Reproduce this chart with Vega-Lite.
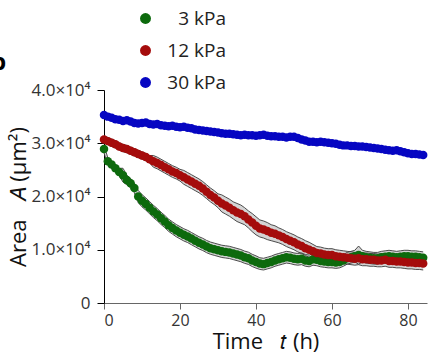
{
  "$schema": "https://vega.github.io/schema/vega-lite/v6.json",
  "width": 323,
  "height": 213,
  "autosize": "none",
  "padding": {"left": 104, "top": 90, "right": 4, "bottom": 57},
  "background": "white",
  "config": {
    "view": {"stroke": null},
    "font": "Open Sans",
    "axis": {"grid": false, "labelFont": "Open Sans", "titleFont": "Open Sans", "titleFontWeight": "normal", "labelColor": "#333", "titleColor": "#111"}
  },
  "title": {"text": "b", "anchor": "start", "frame": "group", "dx": -113, "offset": -85, "baseline": "alphabetic", "fontSize": 24, "fontWeight": "bold", "font": "Open Sans", "color": "#000"},
  "data": {
    "values": [
      {"t":0,"s":"30 kPa","a":35300,"e":0},{"t":1,"s":"30 kPa","a":35000,"e":0},{"t":2,"s":"30 kPa","a":34800,"e":0},{"t":3,"s":"30 kPa","a":34500,"e":0},{"t":4,"s":"30 kPa","a":34400,"e":0},{"t":5,"s":"30 kPa","a":34200,"e":0},{"t":6,"s":"30 kPa","a":34300,"e":0},{"t":7,"s":"30 kPa","a":34100,"e":0},{"t":8,"s":"30 kPa","a":33800,"e":0},{"t":9,"s":"30 kPa","a":33700,"e":0},
      {"t":10,"s":"30 kPa","a":33800,"e":0},{"t":11,"s":"30 kPa","a":33900,"e":0},{"t":12,"s":"30 kPa","a":33600,"e":0},{"t":13,"s":"30 kPa","a":33500,"e":0},{"t":14,"s":"30 kPa","a":33600,"e":0},{"t":15,"s":"30 kPa","a":33400,"e":0},{"t":16,"s":"30 kPa","a":33300,"e":0},{"t":17,"s":"30 kPa","a":33200,"e":0},{"t":18,"s":"30 kPa","a":33300,"e":0},{"t":19,"s":"30 kPa","a":33100,"e":0},
      {"t":20,"s":"30 kPa","a":33000,"e":0},{"t":21,"s":"30 kPa","a":33100,"e":0},{"t":22,"s":"30 kPa","a":32900,"e":0},{"t":23,"s":"30 kPa","a":32800,"e":0},{"t":24,"s":"30 kPa","a":32600,"e":0},{"t":25,"s":"30 kPa","a":32500,"e":0},{"t":26,"s":"30 kPa","a":32400,"e":0},{"t":27,"s":"30 kPa","a":32300,"e":0},{"t":28,"s":"30 kPa","a":32200,"e":0},{"t":29,"s":"30 kPa","a":32100,"e":0},
      {"t":30,"s":"30 kPa","a":32000,"e":0},{"t":31,"s":"30 kPa","a":31900,"e":0},{"t":32,"s":"30 kPa","a":31800,"e":0},{"t":33,"s":"30 kPa","a":31800,"e":0},{"t":34,"s":"30 kPa","a":31700,"e":0},{"t":35,"s":"30 kPa","a":31600,"e":0},{"t":36,"s":"30 kPa","a":31500,"e":0},{"t":37,"s":"30 kPa","a":31600,"e":0},{"t":38,"s":"30 kPa","a":31500,"e":0},{"t":39,"s":"30 kPa","a":31500,"e":0},
      {"t":40,"s":"30 kPa","a":31400,"e":0},{"t":41,"s":"30 kPa","a":31500,"e":0},{"t":42,"s":"30 kPa","a":31600,"e":0},{"t":43,"s":"30 kPa","a":31400,"e":0},{"t":44,"s":"30 kPa","a":31300,"e":0},{"t":45,"s":"30 kPa","a":31300,"e":0},{"t":46,"s":"30 kPa","a":31200,"e":0},{"t":47,"s":"30 kPa","a":31200,"e":0},{"t":48,"s":"30 kPa","a":31100,"e":0},{"t":49,"s":"30 kPa","a":31200,"e":0},
      {"t":50,"s":"30 kPa","a":31200,"e":0},{"t":51,"s":"30 kPa","a":31000,"e":0},{"t":52,"s":"30 kPa","a":30700,"e":0},{"t":53,"s":"30 kPa","a":30500,"e":0},{"t":54,"s":"30 kPa","a":30300,"e":0},{"t":55,"s":"30 kPa","a":30300,"e":0},{"t":56,"s":"30 kPa","a":30200,"e":0},{"t":57,"s":"30 kPa","a":30300,"e":0},{"t":58,"s":"30 kPa","a":30200,"e":0},{"t":59,"s":"30 kPa","a":30100,"e":0},
      {"t":60,"s":"30 kPa","a":30000,"e":0},{"t":61,"s":"30 kPa","a":29900,"e":0},{"t":62,"s":"30 kPa","a":29700,"e":0},{"t":63,"s":"30 kPa","a":29600,"e":0},{"t":64,"s":"30 kPa","a":29600,"e":0},{"t":65,"s":"30 kPa","a":29500,"e":0},{"t":66,"s":"30 kPa","a":29500,"e":0},{"t":67,"s":"30 kPa","a":29400,"e":0},{"t":68,"s":"30 kPa","a":29400,"e":0},{"t":69,"s":"30 kPa","a":29300,"e":0},
      {"t":70,"s":"30 kPa","a":29200,"e":0},{"t":71,"s":"30 kPa","a":29100,"e":0},{"t":72,"s":"30 kPa","a":29000,"e":0},{"t":73,"s":"30 kPa","a":28900,"e":0},{"t":74,"s":"30 kPa","a":28800,"e":0},{"t":75,"s":"30 kPa","a":28700,"e":0},{"t":76,"s":"30 kPa","a":28600,"e":0},{"t":77,"s":"30 kPa","a":28700,"e":0},{"t":78,"s":"30 kPa","a":28500,"e":0},{"t":79,"s":"30 kPa","a":28300,"e":0},
      {"t":80,"s":"30 kPa","a":28100,"e":0},{"t":81,"s":"30 kPa","a":28000,"e":0},{"t":82,"s":"30 kPa","a":28000,"e":0},{"t":83,"s":"30 kPa","a":27900,"e":0},{"t":84,"s":"30 kPa","a":27800,"e":0},

      {"t":0,"s":"3 kPa","a":28900,"e":700},{"t":1,"s":"3 kPa","a":26600,"e":700},{"t":2,"s":"3 kPa","a":26000,"e":700},{"t":3,"s":"3 kPa","a":25300,"e":700},{"t":4,"s":"3 kPa","a":24600,"e":700},{"t":5,"s":"3 kPa","a":24000,"e":1300},{"t":6,"s":"3 kPa","a":23100,"e":900},{"t":7,"s":"3 kPa","a":22500,"e":900},{"t":8,"s":"3 kPa","a":21600,"e":900},{"t":9,"s":"3 kPa","a":20000,"e":1150},
      {"t":10,"s":"3 kPa","a":19200,"e":1150},{"t":11,"s":"3 kPa","a":18600,"e":1150},{"t":12,"s":"3 kPa","a":17900,"e":1150},{"t":13,"s":"3 kPa","a":17200,"e":1150},{"t":14,"s":"3 kPa","a":16600,"e":1150},{"t":15,"s":"3 kPa","a":15900,"e":1150},{"t":16,"s":"3 kPa","a":15300,"e":1150},{"t":17,"s":"3 kPa","a":14600,"e":1150},{"t":18,"s":"3 kPa","a":14100,"e":1150},{"t":19,"s":"3 kPa","a":13600,"e":1150},
      {"t":20,"s":"3 kPa","a":13200,"e":1150},{"t":21,"s":"3 kPa","a":12800,"e":1150},{"t":22,"s":"3 kPa","a":12500,"e":1150},{"t":23,"s":"3 kPa","a":12100,"e":1150},{"t":24,"s":"3 kPa","a":11700,"e":1150},{"t":25,"s":"3 kPa","a":11300,"e":1150},{"t":26,"s":"3 kPa","a":11000,"e":1150},{"t":27,"s":"3 kPa","a":10600,"e":1150},{"t":28,"s":"3 kPa","a":10300,"e":1150},{"t":29,"s":"3 kPa","a":10100,"e":1150},
      {"t":30,"s":"3 kPa","a":9900,"e":1150},{"t":31,"s":"3 kPa","a":9700,"e":1150},{"t":32,"s":"3 kPa","a":9600,"e":1150},{"t":33,"s":"3 kPa","a":9500,"e":1150},{"t":34,"s":"3 kPa","a":9300,"e":1150},{"t":35,"s":"3 kPa","a":9100,"e":1150},{"t":36,"s":"3 kPa","a":8900,"e":1150},{"t":37,"s":"3 kPa","a":8600,"e":1150},{"t":38,"s":"3 kPa","a":8400,"e":1150},{"t":39,"s":"3 kPa","a":8000,"e":1150},
      {"t":40,"s":"3 kPa","a":7700,"e":1150},{"t":41,"s":"3 kPa","a":7400,"e":1100},{"t":42,"s":"3 kPa","a":7300,"e":1100},{"t":43,"s":"3 kPa","a":7500,"e":1100},{"t":44,"s":"3 kPa","a":7700,"e":1100},{"t":45,"s":"3 kPa","a":8000,"e":1100},{"t":46,"s":"3 kPa","a":8200,"e":1100},{"t":47,"s":"3 kPa","a":8400,"e":1100},{"t":48,"s":"3 kPa","a":8600,"e":1100},{"t":49,"s":"3 kPa","a":8500,"e":1100},
      {"t":50,"s":"3 kPa","a":8300,"e":1100},{"t":51,"s":"3 kPa","a":8200,"e":1100},{"t":52,"s":"3 kPa","a":8300,"e":1100},{"t":53,"s":"3 kPa","a":8000,"e":1100},{"t":54,"s":"3 kPa","a":7900,"e":1100},{"t":55,"s":"3 kPa","a":8200,"e":1100},{"t":56,"s":"3 kPa","a":8100,"e":1100},{"t":57,"s":"3 kPa","a":7900,"e":1100},{"t":58,"s":"3 kPa","a":7800,"e":1100},{"t":59,"s":"3 kPa","a":7700,"e":1100},
      {"t":60,"s":"3 kPa","a":7700,"e":1100},{"t":61,"s":"3 kPa","a":7600,"e":1100},{"t":62,"s":"3 kPa","a":7700,"e":1100},{"t":63,"s":"3 kPa","a":8000,"e":1100},{"t":64,"s":"3 kPa","a":8400,"e":1100},{"t":65,"s":"3 kPa","a":8600,"e":1100},{"t":66,"s":"3 kPa","a":8800,"e":1100},{"t":67,"s":"3 kPa","a":9000,"e":1700},{"t":68,"s":"3 kPa","a":8800,"e":1100},{"t":69,"s":"3 kPa","a":8600,"e":1100},
      {"t":70,"s":"3 kPa","a":8500,"e":1100},{"t":71,"s":"3 kPa","a":8400,"e":1100},{"t":72,"s":"3 kPa","a":8400,"e":1100},{"t":73,"s":"3 kPa","a":8600,"e":1100},{"t":74,"s":"3 kPa","a":8700,"e":1100},{"t":75,"s":"3 kPa","a":8800,"e":1100},{"t":76,"s":"3 kPa","a":8700,"e":1100},{"t":77,"s":"3 kPa","a":8600,"e":1100},{"t":78,"s":"3 kPa","a":8700,"e":1100},{"t":79,"s":"3 kPa","a":8800,"e":1100},
      {"t":80,"s":"3 kPa","a":8800,"e":1100},{"t":81,"s":"3 kPa","a":8700,"e":1100},{"t":82,"s":"3 kPa","a":8700,"e":1100},{"t":83,"s":"3 kPa","a":8600,"e":1100},{"t":84,"s":"3 kPa","a":8500,"e":1100},

      {"t":0,"s":"12 kPa","a":30700,"e":700},{"t":1,"s":"12 kPa","a":30400,"e":700},{"t":2,"s":"12 kPa","a":30100,"e":700},{"t":3,"s":"12 kPa","a":29800,"e":700},{"t":4,"s":"12 kPa","a":29400,"e":700},{"t":5,"s":"12 kPa","a":29100,"e":700},{"t":6,"s":"12 kPa","a":28900,"e":700},{"t":7,"s":"12 kPa","a":28600,"e":700},{"t":8,"s":"12 kPa","a":28300,"e":700},{"t":9,"s":"12 kPa","a":28000,"e":700},
      {"t":10,"s":"12 kPa","a":27700,"e":700},{"t":11,"s":"12 kPa","a":27400,"e":700},{"t":12,"s":"12 kPa","a":27000,"e":700},{"t":13,"s":"12 kPa","a":26600,"e":1100},{"t":14,"s":"12 kPa","a":26300,"e":1100},{"t":15,"s":"12 kPa","a":25900,"e":1100},{"t":16,"s":"12 kPa","a":25500,"e":1100},{"t":17,"s":"12 kPa","a":25100,"e":1100},{"t":18,"s":"12 kPa","a":24700,"e":1100},{"t":19,"s":"12 kPa","a":24400,"e":1100},
      {"t":20,"s":"12 kPa","a":24000,"e":1100},{"t":21,"s":"12 kPa","a":23600,"e":1300},{"t":22,"s":"12 kPa","a":23200,"e":1300},{"t":23,"s":"12 kPa","a":22800,"e":1300},{"t":24,"s":"12 kPa","a":22400,"e":1300},{"t":25,"s":"12 kPa","a":22000,"e":1300},{"t":26,"s":"12 kPa","a":21500,"e":1300},{"t":27,"s":"12 kPa","a":20900,"e":1300},{"t":28,"s":"12 kPa","a":20300,"e":1300},{"t":29,"s":"12 kPa","a":19800,"e":1300},
      {"t":30,"s":"12 kPa","a":19200,"e":1300},{"t":31,"s":"12 kPa","a":18700,"e":1600},{"t":32,"s":"12 kPa","a":18300,"e":1600},{"t":33,"s":"12 kPa","a":17900,"e":1600},{"t":34,"s":"12 kPa","a":17400,"e":1600},{"t":35,"s":"12 kPa","a":17000,"e":1700},{"t":36,"s":"12 kPa","a":16700,"e":1700},{"t":37,"s":"12 kPa","a":16300,"e":1600},{"t":38,"s":"12 kPa","a":15700,"e":1600},{"t":39,"s":"12 kPa","a":15100,"e":1700},
      {"t":40,"s":"12 kPa","a":14500,"e":1700},{"t":41,"s":"12 kPa","a":14000,"e":1600},{"t":42,"s":"12 kPa","a":13800,"e":1600},{"t":43,"s":"12 kPa","a":13500,"e":1600},{"t":44,"s":"12 kPa","a":13200,"e":1500},{"t":45,"s":"12 kPa","a":13000,"e":1500},{"t":46,"s":"12 kPa","a":12700,"e":1400},{"t":47,"s":"12 kPa","a":12400,"e":1400},{"t":48,"s":"12 kPa","a":12000,"e":1400},{"t":49,"s":"12 kPa","a":11700,"e":1400},
      {"t":50,"s":"12 kPa","a":11400,"e":1400},{"t":51,"s":"12 kPa","a":11000,"e":1400},{"t":52,"s":"12 kPa","a":10700,"e":1400},{"t":53,"s":"12 kPa","a":10300,"e":1400},{"t":54,"s":"12 kPa","a":10000,"e":1400},{"t":55,"s":"12 kPa","a":9700,"e":1300},{"t":56,"s":"12 kPa","a":9400,"e":1200},{"t":57,"s":"12 kPa","a":9300,"e":1200},{"t":58,"s":"12 kPa","a":9100,"e":1200},{"t":59,"s":"12 kPa","a":9000,"e":1200},
      {"t":60,"s":"12 kPa","a":9000,"e":1200},{"t":61,"s":"12 kPa","a":8800,"e":1200},{"t":62,"s":"12 kPa","a":8700,"e":1200},{"t":63,"s":"12 kPa","a":8600,"e":1200},{"t":64,"s":"12 kPa","a":8500,"e":1200},{"t":65,"s":"12 kPa","a":8400,"e":1200},{"t":66,"s":"12 kPa","a":8300,"e":1200},{"t":67,"s":"12 kPa","a":8400,"e":1200},{"t":68,"s":"12 kPa","a":8200,"e":1200},{"t":69,"s":"12 kPa","a":8200,"e":1200},
      {"t":70,"s":"12 kPa","a":8100,"e":1200},{"t":71,"s":"12 kPa","a":8100,"e":1200},{"t":72,"s":"12 kPa","a":8000,"e":1200},{"t":73,"s":"12 kPa","a":8000,"e":1200},{"t":74,"s":"12 kPa","a":8100,"e":1200},{"t":75,"s":"12 kPa","a":7900,"e":1200},{"t":76,"s":"12 kPa","a":7900,"e":1200},{"t":77,"s":"12 kPa","a":7800,"e":1200},{"t":78,"s":"12 kPa","a":7800,"e":1200},{"t":79,"s":"12 kPa","a":7700,"e":1200},
      {"t":80,"s":"12 kPa","a":7600,"e":1200},{"t":81,"s":"12 kPa","a":7600,"e":1200},{"t":82,"s":"12 kPa","a":7500,"e":1200},{"t":83,"s":"12 kPa","a":7500,"e":1200},{"t":84,"s":"12 kPa","a":7400,"e":1200}
    ]
  },
  "encoding": {
    "x": {
      "field": "t", "type": "quantitative",
      "scale": {"domain": [0, 85], "nice": false},
      "axis": {"values": [0, 20, 40, 60, 80], "title": "Time\u00a0\u00a0\u00a0𝑡\u00a0(h)", "titleFontSize": 22, "labelFontSize": 16, "domainColor": "#666", "tickColor": "#666", "tickSize": 6, "labelPadding": 3, "titlePadding": 3, "labelColor": "#333"}
    },
    "y": {
      "field": "a", "type": "quantitative",
      "scale": {"domain": [0, 40000], "nice": false},
      "axis": {"values": [0, 10000, 20000, 30000, 40000], "labelExpr": "datum.value == 0 ? '0' : format(datum.value / 10000, '.1f') + '×10⁴'", "title": "Area\u00a0\u00a0\u00a0𝐴\u00a0(μm²)", "titleFontSize": 22, "labelFontSize": 17, "domainColor": "#000", "tickColor": "#000", "tickSize": 7, "labelPadding": 7, "titlePadding": 1, "labelColor": "#333"}
    }
  },
  "layer": [
    {
      "transform": [{"filter": "datum.s != '30 kPa'"}],
      "mark": {"type": "errorband", "color": "#d4d4d4", "opacity": 1, "borders": {"stroke": "#3a3a3a", "strokeWidth": 0.9, "opacity": 1}},
      "encoding": {
        "yError": {"field": "e"},
        "detail": {"field": "s"}
      }
    },
    {
      "mark": {"type": "point", "filled": true, "size": 72, "opacity": 1},
      "encoding": {
        "color": {
          "field": "s", "type": "nominal",
          "scale": {"domain": ["3 kPa", "12 kPa", "30 kPa"], "range": ["#0d6a0d", "#a50c0c", "#0606c2"]},
          "legend": {"orient": "none", "legendX": 32, "legendY": -81, "title": null, "labelFontSize": 19, "labelColor": "#222", "symbolSize": 120, "rowPadding": 12, "labelAlign": "right", "labelOffset": 71}
        }
      }
    }
  ]
}
